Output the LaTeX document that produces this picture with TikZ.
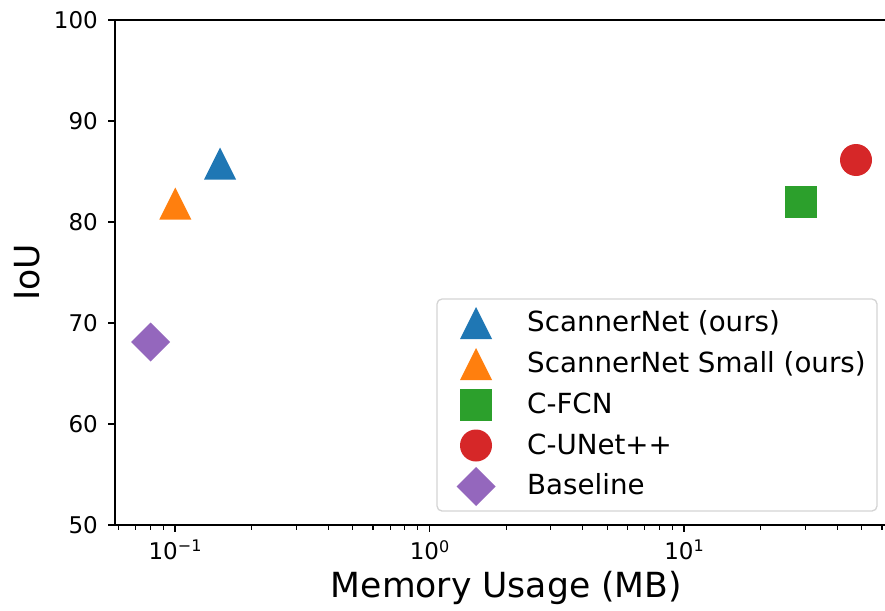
\documentclass[tikz,border=0pt]{standalone}
\usepackage{fontspec}
\setmainfont{DejaVu Sans}
\definecolor{tblue}{HTML}{1F77B4}
\definecolor{torange}{HTML}{FF7F0E}
\definecolor{tgreen}{HTML}{2CA02C}
\definecolor{tred}{HTML}{D62728}
\definecolor{tpurple}{HTML}{9467BD}
\newcommand\mtri[3]{\fill[#3] (#1,#2) ++(0,-16) -- ++(16,32) -- ++(-32,0) -- cycle;}
\newcommand\msq[3]{\fill[#3] (#1,#2) ++(-16,-16) rectangle ++(32,32);}
\newcommand\mcirc[3]{\fill[#3] (#1,#2) circle[radius=16];}
\newcommand\mdiam[3]{\fill[#3] (#1,#2) ++(0,-19.5) -- ++(19.5,19.5) -- ++(-19.5,19.5) -- ++(-19.5,-19.5) -- cycle;}
\begin{document}
\begin{tikzpicture}[x=1pt,y=-1pt]
\tikzset{
  spine/.style={line width=1.6pt, black, line cap=rect},
  majtick/.style={line width=1.4pt, black},
  mintick/.style={line width=1.1pt, black},
  ticklbl/.style={font=\fontsize{23}{23}\selectfont, inner sep=0pt},
  axlbl/.style={font=\fontsize{34.6}{34.6}\selectfont, inner sep=0pt},
  leglbl/.style={font=\fontsize{27.7}{27.7}\selectfont, inner sep=0pt, anchor=base west},
}
\useasboundingbox (0,0) rectangle (885,610);
% spines
\coordinate (tl) at (115,20);
\coordinate (bl) at (115,525);
\coordinate (tr) at (885,20);
\coordinate (br) at (885,525);
\draw[spine] (tr) -- (tl) -- (bl) -- (br);
% y ticks
\foreach \v [count=\i from 0] in {50,60,70,80,90,100} {
  \pgfmathsetmacro\yy{525-10.1*(\v-50)}
  \draw[majtick] (108,\yy) -- (115,\yy);
  \node[ticklbl, anchor=east] (yl\i) at (98,\yy) {\v};
}
% x major ticks
\foreach \xx/\ee [count=\i] in {175/−1, 429.5/0, 684/1} {
  \draw[majtick] (\xx,525) -- (\xx,532);
  \node[ticklbl, anchor=north] (xl\i) at (\xx,540) {10\raisebox{7.5pt}{\fontsize{16}{16}\selectfont \ee}};
}
% x minor ticks
\foreach \xx in {118.5,135.6,150.3,163.3,251.6,296.4,328.2,352.9,373.0,390.1,404.8,417.9,506.1,550.9,582.7,607.4,627.5,644.6,659.3,672.4,760.6,805.4,837.2,861.9,882.0} {
  \draw[mintick] (\xx,525) -- (\xx,529.5);
}
% axis labels
\node[axlbl, anchor=base] (xlabel) at (506.5,597) {Memory Usage (MB)};
\node[axlbl, anchor=base, rotate=90] (ylabel) at (39,272.5) {IoU};
% data
\mtri{220}{163.5}{tblue}
\mtri{175.3}{203.5}{torange}
\msq{801}{202}{tgreen}
\mcirc{856}{160}{tred}
\mdiam{150.7}{342}{tpurple}
% legend
\draw[draw=black!17, line width=1.3pt, rounded corners=5pt, fill=white] (437,299) rectangle (877,511);
\mtri{476}{323}{tblue}
\mtri{476}{364}{torange}
\msq{476}{405}{tgreen}
\mcirc{476}{445.5}{tred}
\mdiam{476}{486.5}{tpurple}
\node[leglbl] (l1) at (527,331.5) {ScannerNet (ours)};
\node[leglbl] (l2) at (527,372.5) {ScannerNet Small (ours)};
\node[leglbl] (l3) at (527,413.5) {C-FCN};
\node[leglbl] (l4) at (527,454) {C-UNet++};
\node[leglbl] (l5) at (527,494.5) {Baseline};
\end{tikzpicture}
\end{document}
